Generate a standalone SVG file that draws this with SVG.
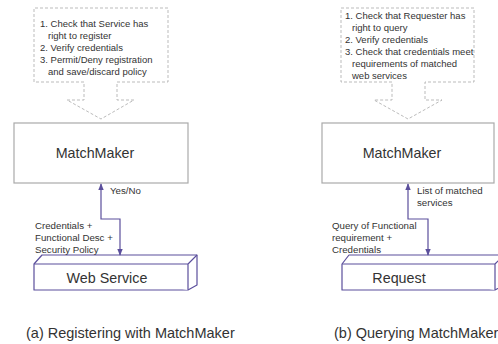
<svg xmlns="http://www.w3.org/2000/svg" width="498" height="344" viewBox="0 0 498 344">
<style>
text{font-family:"Liberation Sans",Arial,sans-serif;fill:#333}
.note{font-size:9.5px}
.lbl{font-size:9.7px}
.big{font-size:14.3px}
.cap{font-size:14.5px}
.dash{fill:none;stroke:#aaa;stroke-width:0.8;stroke-dasharray:3,2}
.mm{fill:#fff;stroke:#aaa;stroke-width:1.2}
.conn{fill:none;stroke:#5b4f9c;stroke-width:1.2}
.box3d{fill:#fff;stroke:#5b4f9c;stroke-width:1.2;stroke-linejoin:round}
</style>
<defs>
<marker id="ah" viewBox="0 0 10 10" refX="9" refY="5" markerWidth="6" markerHeight="6" orient="auto-start-reverse">
<path d="M0,1 L10,5 L0,9 z" fill="#5b4f9c"/>
</marker>
</defs>
<rect width="498" height="344" fill="#fff"/>

<g id="note-a">
<path class="dash" d="M84,82 H34 V8 H168 V82 H117 V100 H134 L101,119 L67,100 H84 Z"/>
<text class="note" x="40" y="27">1. Check that Service has</text>
<text class="note" x="48" y="39">right to register</text>
<text class="note" x="40" y="51">2. Verify credentials</text>
<text class="note" x="40" y="63">3. Permit/Deny registration</text>
<text class="note" x="48" y="75">and save/discard  policy</text>
</g>

<g id="note-b">
<path class="dash" d="M392,82 H341 V8 H474 V82 H425 V100 H442 L408,119 L374,100 H392 Z"/>
<text class="note" x="345" y="19">1. Check that Requester  has</text>
<text class="note" x="352" y="31">right to query</text>
<text class="note" x="345" y="43">2. Verify credentials</text>
<text class="note" x="345" y="55">3. Check that credentials meet</text>
<text class="note" x="352" y="67">requirements of matched</text>
<text class="note" x="352" y="79">web services</text>
</g>

<g id="matchmaker-a">
<rect class="mm" x="14" y="123" width="174" height="60"/>
<text class="big" x="95" y="158" text-anchor="middle">MatchMaker</text>
</g>

<g id="matchmaker-b">
<rect class="mm" x="322" y="123" width="172" height="60"/>
<text class="big" x="402" y="158" text-anchor="middle">MatchMaker</text>
</g>

<g id="webservice">
<path class="box3d" d="M34,264 L42,255 H197 V285 L188,290 H34 Z"/>
<path class="box3d" d="M34,264 H188 V290 M188,264 L197,255"/>
<text class="big" x="107" y="283" text-anchor="middle">Web Service</text>
</g>

<g id="request">
<path class="box3d" d="M342,264 L349,255 H504 V285 L495,290 H342 Z"/>
<path class="box3d" d="M342,264 H495 V290 M495,264 L504,255"/>
<text class="big" x="399" y="283" text-anchor="middle">Request</text>
</g>

<g id="connectors">
<path class="conn" d="M101,184 V219 H120 V255" marker-start="url(#ah)" marker-end="url(#ah)"/>
<path class="conn" d="M408,184 V219 H428 V255" marker-start="url(#ah)" marker-end="url(#ah)"/>
</g>

<g id="labels">
<text class="lbl" x="110" y="194">Yes/No</text>
<text class="lbl" x="35" y="229">Credentials +</text>
<text class="lbl" x="35" y="241">Functional  Desc +</text>
<text class="lbl" x="35" y="253">Security Policy</text>
<text class="lbl" x="417" y="194">List of matched</text>
<text class="lbl" x="417" y="206">services</text>
<text class="lbl" x="332" y="229">Query of Functional</text>
<text class="lbl" x="332" y="241">requirement +</text>
<text class="lbl" x="332" y="253">Credentials</text>
</g>

<g id="captions">
<text class="cap" x="26" y="338">(a) Registering with  MatchMaker</text>
<text class="cap" x="334" y="338">(b) Querying MatchMaker</text>
</g>
</svg>
